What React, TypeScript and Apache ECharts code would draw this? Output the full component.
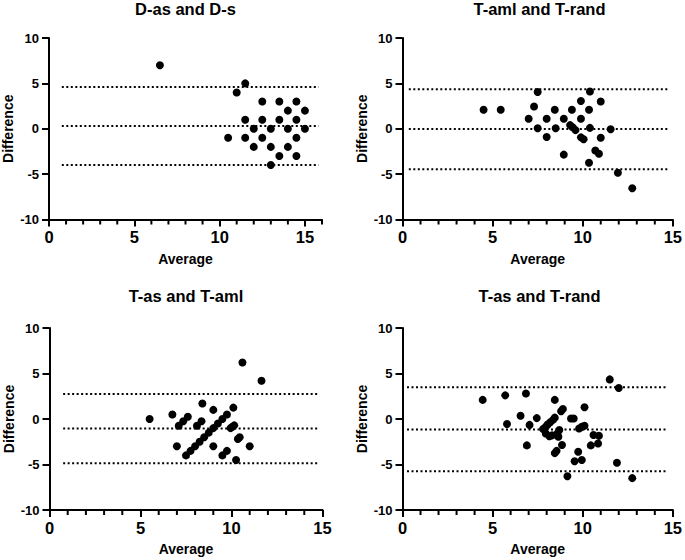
import React, { useEffect, useRef } from "react";
import * as echarts from "echarts";

const titles = ["D-as and D-s", "T-aml and T-rand", "T-as and T-aml", "T-as and T-rand"];
const xAxisName = "Average";
const yAxisName = "Difference";
const xMaxes = [16, 15, 15, 15];
const yTicks = [-10, -5, 0, 5, 10];

const pointsDasDs: [number, number][] = [
  [6.5, 7], [11.5, 5], [11, 4], [12.5, 3], [13.5, 3], [14.5, 3], [14, 2], [15, 2],
  [11.5, 1], [12.5, 1], [13.5, 1], [14.5, 1], [12, 0], [13, 0], [14, 0], [15, 0],
  [10.5, -1], [11.5, -1], [12.5, -1], [14.5, -1], [12, -2], [13, -2], [14, -2],
  [13.5, -3], [14.5, -3], [13, -4],
];
const pointsTamlTrand: [number, number][] = [
  [4.5, 2.1], [5.45, 2.1], [7.5, 4.05], [7.3, 2.45], [7.0, 1.1], [7.5, 0.05], [8.0, 1.1],
  [8.0, -0.9], [8.45, 2.1], [8.5, 0.05], [8.95, 1.1], [8.95, -2.85], [9.4, 2.1], [9.3, 0.4],
  [9.45, 0.15], [9.6, -0.15], [9.9, 3.05], [9.9, 1.1], [9.9, -0.95], [10.05, -1.15],
  [10.4, 4.1], [10.35, 2.1], [10.4, 0.1], [10.35, -3.75], [11.0, 3.0], [11.0, -1.0],
  [10.7, -2.4], [10.9, -2.75], [11.55, -0.05], [11.95, -4.85], [12.75, -6.55],
];
const pointsTasTaml: [number, number][] = [
  [5.5, 0], [6.75, 0.5], [7.1, -0.75], [7.35, -0.25], [7.6, 0.25], [7.0, -3.0], [7.5, -4.0],
  [7.75, -3.5], [8.0, -3.0], [8.25, -2.5], [8.5, -2.0], [8.75, -1.5], [9.0, -1.0],
  [9.25, -0.5], [9.5, 0.0], [9.75, 0.5], [8.1, -0.75], [8.35, -0.25], [8.4, 1.7], [9.0, 1.0],
  [9.0, -3.0], [9.5, -4.0], [9.75, -3.5], [9.95, -1.0], [10.05, -0.85], [10.15, -0.7],
  [10.1, 1.25], [10.35, -2.2], [10.45, -2.0], [10.25, -4.5], [11.0, -3.0], [10.6, 6.2],
  [11.65, 4.2],
];
const pointsTasTrand: [number, number][] = [
  [4.45, 2.1], [5.7, 2.6], [5.8, -0.55], [6.85, 2.8], [6.55, 0.35], [6.9, -2.9], [7.05, -0.65],
  [7.45, 0.1], [7.8, -1.1], [7.95, -0.85], [8.05, -0.6], [8.2, -0.35], [8.35, -0.1],
  [8.45, 0.15], [8.45, 2.1], [7.95, -1.6], [8.15, -1.9], [8.3, -1.8], [8.6, -1.6], [8.7, -1.2],
  [8.65, -1.95], [8.45, -3.75], [8.55, -3.5], [8.8, 0.85], [8.9, 1.1], [8.85, -2.85],
  [9.35, 0.05], [9.5, 0.05], [9.8, -1.05], [9.95, -0.85], [10.1, -0.75], [10.1, 1.3],
  [9.75, -3.6], [9.55, -4.65], [9.95, -4.5], [9.15, -6.3], [10.45, -2.9], [10.6, -1.75],
  [10.9, -1.85], [10.85, -2.7], [11.5, 4.35], [12.0, 3.4], [11.9, -4.8], [12.75, -6.5],
];
const allPoints = [pointsDasDs, pointsTamlTrand, pointsTasTaml, pointsTasTrand];

// upper limit, mean bias, lower limit
const limitsDasDs = [4.6, 0.3, -4.0];
const limitsTamlTrand = [4.35, -0.02, -4.45];
const limitsTasTaml = [2.75, -1.05, -4.85];
const limitsTasTrand = [3.5, -1.15, -5.75];
const allLimits = [limitsDasDs, limitsTamlTrand, limitsTasTaml, limitsTasTrand];
// x extent of the limit lines
const lineSpans = [[0.75, 15.8], [0.35, 14.8], [0.75, 14.75], [0.25, 14.7]];

const FONT = '"Liberation Sans", Arial, Helvetica, sans-serif';

const panels = [
  { left: 49, top: 38, width: 273, height: 181.5 },
  { left: 402.5, top: 38, width: 274.5, height: 181.5 },
  { left: 49.5, top: 328, width: 273, height: 182 },
  { left: 402.5, top: 328, width: 274.5, height: 182 },
];
const titlePos = [[185.5, 8.5], [539.5, 8.5], [186, 296], [539.5, 296]];

export default function App() {
  const ref = useRef<HTMLDivElement>(null);
  useEffect(() => {
    if (!ref.current) return;
    const chart = echarts.init(ref.current, undefined, { renderer: "svg" });
    const xAxes: any[] = [];
    const yAxes: any[] = [];
    const series: any[] = [];
    panels.forEach((g, i) => {
      const xMax = xMaxes[i];
      const majors: number[] = [];
      for (let v = 0; v <= xMax; v += 5) majors.push(v);
      const minors: number[] = [];
      for (let v = 1; v <= xMax; v += 1) if (v % 5 !== 0) minors.push(v);
      xAxes.push({
        type: "value",
        gridIndex: i,
        min: 0,
        max: xMax,
        interval: 5,
        position: "bottom",
        name: xAxisName,
        nameLocation: "middle",
        nameGap: 32,
        nameTextStyle: { color: "#000", fontSize: 14, fontWeight: "bold", fontFamily: FONT },
        axisLine: { show: true, onZero: false, lineStyle: { color: "#000", width: 2 } },
        axisTick: { show: true, length: 7, lineStyle: { color: "#000", width: 2 }, customValues: majors },
        axisLabel: {
          color: "#000", fontSize: 16.5, fontWeight: "bold", fontFamily: FONT, margin: 9,
          customValues: majors,
          formatter: (v: number) => (v % 5 === 0 ? String(v) : ""),
        },
        splitLine: { show: false },
      });
      yAxes.push({
        type: "value",
        gridIndex: i,
        min: -10,
        max: 10,
        interval: 5,
        name: yAxisName,
        nameLocation: "middle",
        nameGap: 34,
        nameRotate: 90,
        nameTextStyle: { color: "#000", fontSize: 14, fontWeight: "bold", fontFamily: FONT },
        axisLine: { show: true, onZero: false, lineStyle: { color: "#000", width: 2 } },
        axisTick: { show: true, length: 7, lineStyle: { color: "#000", width: 2 }, customValues: yTicks },
        axisLabel: { color: "#000", fontSize: 13, fontWeight: "bold", fontFamily: FONT, margin: 10 },
        splitLine: { show: false },
      });
      // minor x ticks: short marks hanging below the x axis at every unit
      series.push({
        type: "scatter",
        xAxisIndex: i,
        yAxisIndex: i,
        data: minors.map((v) => [v, -10]),
        symbol: "rect",
        symbolSize: [2, 5],
        symbolOffset: [0, 2.5],
        clip: false,
        silent: true,
        z: 1,
        itemStyle: { color: "#000", opacity: 1 },
      });
      allLimits[i].forEach((v) => {
        series.push({
          type: "line",
          xAxisIndex: i,
          yAxisIndex: i,
          data: [[lineSpans[i][0], v], [lineSpans[i][1], v]],
          symbol: "none",
          silent: true,
          lineStyle: { color: "#000", width: 2, type: [2, 2.5], opacity: 1 },
        });
      });
      series.push({
        type: "scatter",
        xAxisIndex: i,
        yAxisIndex: i,
        data: allPoints[i],
        symbol: "circle",
        symbolSize: 8,
        itemStyle: { color: "#000", opacity: 1 },
      });
    });
    chart.setOption({
      animation: false,
      backgroundColor: "#fff",
      grid: panels.map((g) => ({ ...g, containLabel: false })),
      xAxis: xAxes,
      yAxis: yAxes,
      series,
      graphic: titles.map((t, i) => ({
        type: "text",
        x: titlePos[i][0],
        y: titlePos[i][1],
        style: {
          text: t,
          fill: "#000",
          fontSize: 16.5,
          fontWeight: "bold",
          fontFamily: FONT,
          align: "center",
          verticalAlign: "middle",
        },
      })),
    });
    return () => chart.dispose();
  }, []);
  return (
    <div
      ref={ref}
      style={{ position: "fixed", left: 0, top: 0, width: 685, height: 560, background: "#fff" }}
    />
  );
}
